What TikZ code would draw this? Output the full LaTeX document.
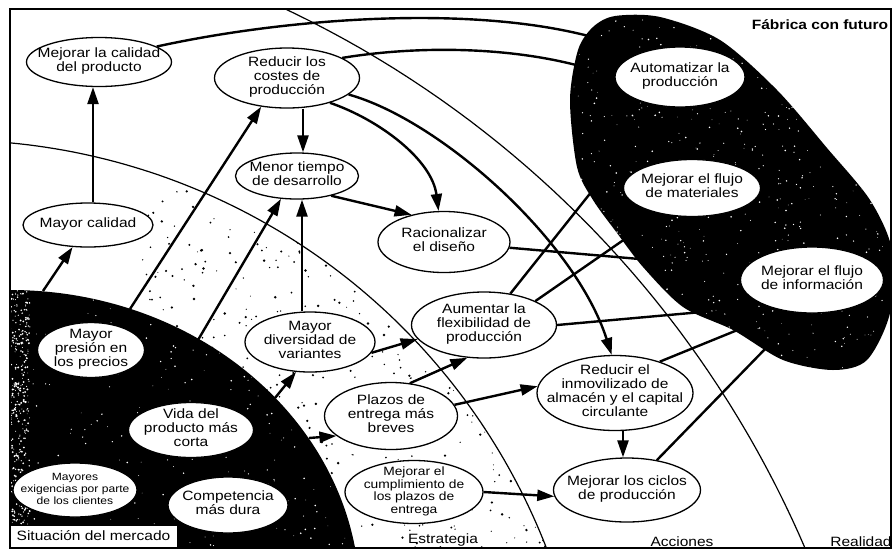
\documentclass[tikz,border=0pt]{standalone}
\usepackage{fontspec}
\setmainfont{Liberation Sans}[FakeStretch=1.15]
\usetikzlibrary{arrows.meta,shapes.geometric}
\pgfdeclarelayer{bg}
\pgfdeclarelayer{lines}
\pgfdeclarelayer{blk}
\pgfsetlayers{bg,lines,blk,main}
\newcommand{\tx}[1]{\makebox[0pt]{\raisebox{-3pt}[0pt][0pt]{\begin{tabular}{@{}c@{}}#1\end{tabular}}}}
\tikzset{
  nd/.style={ellipse, draw, line width=1.3pt, fill=white, inner sep=0pt,
    font=\fontsize{13.5}{14}\selectfont},
  sm/.style={font=\fontsize{12}{12.5}\selectfont},
  xs/.style={font=\fontsize{10.5}{12}\selectfont},
  arr/.style={line width=2.4pt, -{Triangle[length=17pt,width=11pt]}},
  cn/.style={line width=2.4pt},
  bnd/.style={line width=1.2pt},
  lab/.style={font=\fontsize{13.5}{14}\selectfont, inner sep=0pt},
}
\begin{document}
\begin{tikzpicture}[x=1pt,y=-1pt]
\useasboundingbox (0,0) rectangle (894,558);
% ---------- background regions ----------
\begin{pgfonlayer}{bg}
\fill[white] (0,0) rectangle (894,558);
% speckled strategy band
\begin{scope}
  \clip (10,142.8) -- plot[domain=84.6:21.25,samples=60] ({-50+640*cos(\x)},{780-640*sin(\x)}) -- (10,548) -- cycle;
  \pgfmathsetseed{11}
  \foreach \i in {1,...,650}{
    \pgfmathsetmacro\xa{140+rnd*410}
    \pgfmathsetmacro\ya{175+rnd*375}
    \pgfmathsetmacro\ra{0.5+0.9*rnd}
    \fill (\xa,\ya) circle (\ra pt);
  }
\end{scope}
% black market region
\begin{scope}
  \clip (10,9) rectangle (891,548);
  \fill[black] (10,600) ellipse [x radius=350pt, y radius=310pt];
  \clip (10,600) ellipse [x radius=350pt, y radius=310pt];
  \pgfmathsetseed{5}
  \foreach \i in {1,...,350}{
    \pgfmathsetmacro\xa{10+rnd*20}
    \pgfmathsetmacro\ya{290+rnd*250}
    \pgfmathsetmacro\ra{0.4+0.7*rnd}
    \fill[white] (\xa,\ya) circle (\ra pt);
  }
  \foreach \i in {1,...,250}{
    \pgfmathsetmacro\xa{10+rnd*350}
    \pgfmathsetmacro\ya{290+rnd*260}
    \pgfmathsetmacro\ra{0.3+0.6*rnd}
    \fill[white] (\xa,\ya) circle (\ra pt);
  }
\end{scope}
% boundary curves
\draw[bnd] plot[domain=84.6:21.25,samples=80] ({-50+640*cos(\x)},{780-640*sin(\x)});
\draw[bnd] plot[domain=64.63:23.25,samples=100] ({-168+1059*cos(\x)},{966-1059*sin(\x)});
\end{pgfonlayer}
% ---------- factory region ----------
\begin{pgfonlayer}{blk}
\begin{scope}
  \clip (10,9) rectangle (891,548);
  \fill[black] plot[smooth cycle] coordinates {(578,50) (593,27) (615,16) (660,17) (720,40) (777,90) (827,148) (870,200) (892,250) (890,313) (867,360) (833,370) (783,360) (733,330) (683,307) (643,267) (617,233) (593,200) (577,167) (570,100)};
  \clip plot[smooth cycle] coordinates {(578,50) (593,27) (615,16) (660,17) (720,40) (777,90) (827,148) (870,200) (892,250) (890,313) (867,360) (833,370) (783,360) (733,330) (683,307) (643,267) (617,233) (593,200) (577,167) (570,100)};
  \pgfmathsetseed{23}
  \foreach \i in {1,...,650}{
    \pgfmathsetmacro\xa{565+rnd*330}
    \pgfmathsetmacro\ya{12+rnd*365}
    \pgfmathsetmacro\ra{0.3+0.6*rnd}
    \fill[white] (\xa,\ya) circle (\ra pt);
  }
\end{scope}
\end{pgfonlayer}
% ---------- nodes ----------
\node[nd, minimum width=145pt, minimum height=49pt] (mejcal) at (99,62) {\tx{Mejorar la calidad\\del producto}};
\node[nd, minimum width=145pt, minimum height=60pt] (cost) at (287,78) {\tx{Reducir los\\costes de\\producción}};
\node[nd, minimum width=123pt, minimum height=46pt] (menor) at (297,176) {\tx{Menor tiempo\\de desarrollo}};
\node[nd, minimum width=132pt, minimum height=61pt] (rac) at (444,242) {\tx{Racionalizar\\el diseño}};
\node[nd, minimum width=130pt, minimum height=44pt] (mcal) at (88,225) {\tx{Mayor calidad}};
\node[nd, minimum width=130pt, minimum height=60pt] (auto) at (680,77) {\tx{Automatizar la\\producción}};
\node[nd, minimum width=137pt, minimum height=57pt] (mat) at (692,188) {\tx{Mejorar el flujo\\de materiales}};
\node[nd, minimum width=143pt, minimum height=66pt] (info) at (812,280) {\tx{Mejorar el flujo\\de información}};
\node[nd, minimum width=145pt, minimum height=66pt] (aum) at (484,325) {\tx{Aumentar la\\flexibilidad de\\producción}};
\node[nd, minimum width=130pt, minimum height=60pt] (div) at (310,342) {\tx{Mayor\\diversidad de\\variantes}};
\node[nd, minimum width=133pt, minimum height=67pt] (plaz) at (391,416) {\tx{Plazos de\\entrega más\\breves}};
\node[nd, minimum width=156pt, minimum height=75pt] (inmov) at (615,393) {\tx{Reducir el\\inmovilizado de\\almacén y el capital\\circulante}};
\node[nd, minimum width=147pt, minimum height=64pt] (ciclos) at (627,490) {\tx{Mejorar los ciclos\\de producción}};
\node[nd, sm, minimum width=138pt, minimum height=63pt] (cump) at (414,492) {\tx{Mejorar el\\cumplimiento de\\los plazos de\\entrega}};
\node[nd, minimum width=107pt, minimum height=55pt] (pres) at (91,350) {\tx{Mayor\\presión en\\los precios}};
\node[nd, minimum width=125pt, minimum height=55pt] (vida) at (191,430) {\tx{Vida del\\producto más\\corta}};
\node[nd, xs, minimum width=124pt, minimum height=54pt] (exig) at (75,490) {\tx{Mayores\\exigencias por parte\\de los clientes}};
\node[nd, minimum width=120pt, minimum height=56pt] (comp) at (228,505) {\tx{Competencia\\más dura}};
% free ends on the market border
\coordinate (m1) at (43,291);
\coordinate (m2) at (130,309);
\coordinate (m3) at (198,340);
\coordinate (m4) at (275,398);
\coordinate (m5) at (309,438);
% ---------- connectors into the factory (hidden under black) ----------
\begin{pgfonlayer}{lines}
\draw[cn] (mejcal.15) .. controls (300,15) and (520,0) .. (auto.150);
\draw[cn] (cost.20) .. controls (420,45) and (530,45) .. (auto.180);
\draw[cn] (rac.355) -- (info.170);
\draw[cn] (aum.50) -- (auto.235);
\draw[cn] (aum.25) -- (mat.220);
\draw[cn] (aum.east) -- (info.210);
\draw[cn] (inmov.35) -- (info.228);
\draw[cn] (ciclos.45) -- (info.250);
\end{pgfonlayer}
% ---------- visible connectors ----------
\draw[arr] ([xshift=5pt]mcal.north) -- ([xshift=-6pt]mejcal.south);
\draw[arr] (m1) -- (mcal.235);
\draw[arr] (m2) -- (cost.228);
\draw[arr] (m3) -- (menor.235);
\draw[arr] ([xshift=-8pt]div.north) -- ([xshift=5pt]menor.south);
\draw[arr] ([xshift=16pt]cost.south) -- ([xshift=6pt]menor.north);
\draw[arr] (menor.-30) -- (rac.140);
\draw[arr] (cost.-30) .. controls (380,120) and (432,160) .. (rac.100);
\draw[arr] (cost.-15) .. controls (440,120) and (575,240) .. (inmov.95);
\draw[arr] (div.-10) -- (aum.192);
\draw[arr] (plaz.60) -- (aum.243);
\draw[arr] (plaz.10) -- (inmov.175);
\draw[arr] (m4) -- (div.245);
\draw[arr] (m5) -- (plaz.200);
\draw[arr] (cump.east) -- (ciclos.185);
\draw[arr] ([xshift=8pt]inmov.south) -- ([xshift=-4pt]ciclos.north);
% ---------- labels ----------
\node[font=\bfseries\fontsize{13.5}{14}\selectfont, inner sep=0pt] (fab) at (820,25) {Fábrica con futuro};
\node[draw, fill=white, line width=1pt, minimum width=167pt, minimum height=22pt, inner sep=0pt,
      font=\fontsize{13.5}{14}\selectfont] (sit) at (93.5,536) {Situación del mercado};
\node[lab] (estr) at (443,540) {Estrategia};
\node[lab] (acc) at (682,542) {Acciones};
\node[lab] (real) at (861,542) {Realidad};
% frame
\draw[line width=1.6pt] (10,9) rectangle (891,548);
\end{tikzpicture}
\end{document}
